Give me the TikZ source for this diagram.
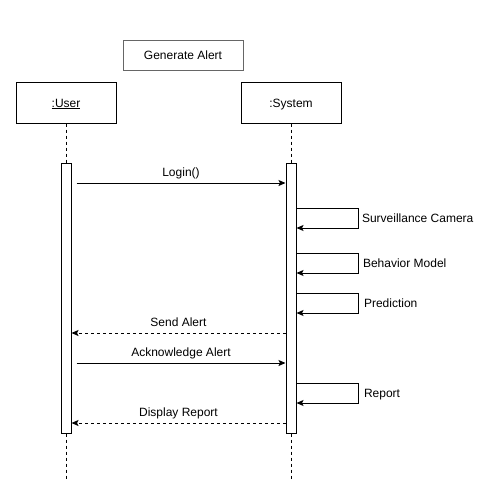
\documentclass[tikz,border=0pt]{standalone}
\usepackage{fontspec}
\setmainfont{Liberation Sans}
\usetikzlibrary{arrows.meta}

\begin{document}
\begin{tikzpicture}[x=1pt,y=-1pt,font=\fontsize{12}{14}\selectfont,line width=1pt]
\tikzstyle{every node}+=[inner sep=0pt,text height=9pt,text depth=1pt]
\tikzstyle{obj}=[draw,rectangle,minimum width=100pt,minimum height=40pt]
\tikzstyle{act}=[draw,fill=white,rectangle,minimum width=10pt,minimum height=270pt]
\tikzstyle{life}=[dash pattern=on 3pt off 3pt]
\tikzstyle{msg}=[-{Stealth[length=7pt,width=6pt,inset=1.5pt]}]
\tikzstyle{reply}=[msg,dash pattern=on 3pt off 3pt]
\tikzstyle{lbl}=[above=5pt]
\useasboundingbox (0,0) rectangle (478,484);
\node[draw=black!60,minimum width=120pt,minimum height=30pt] (title) at (183,56) {Generate Alert};
\node[obj] (user) at (66,103) {\underline{:User}};
\node[obj] (sys) at (291,103) {:System};
\node[act] (uact) at (66,298) {};
\node[act] (sact) at (291,298) {};
\coordinate (uend) at (66,480);
\coordinate (send) at (291,480);
\draw[life] (user) -- (uact);
\draw[life] (uact) -- (uend);
\draw[life] (sys) -- (sact);
\draw[life] (sact) -- (send);
\coordinate (login) at (0,183);
\coordinate (cam) at (0,208);
\coordinate (model) at (0,253);
\coordinate (pred) at (0,293);
\coordinate (alert) at (0,333);
\coordinate (ack) at (0,363);
\coordinate (rep) at (0,383);
\coordinate (disp) at (0,423);
\draw[msg] ([xshift=5pt]uact.east |- login) -- node[lbl] (loginlbl) {Login()} (sact.west |- login);
\draw[msg] (sact.east |- cam) -- ++(62,0) -- node[right=3pt] (camlbl) {Surveillance Camera} ++(0,20) -- ++(-62,0);
\draw[msg] (sact.east |- model) -- ++(62,0) -- node[right=4pt] (modellbl) {Behavior Model} ++(0,20) -- ++(-62,0);
\draw[msg] (sact.east |- pred) -- ++(62,0) -- node[right=5pt] (predlbl) {Prediction} ++(0,20) -- ++(-62,0);
\draw[reply] (sact.west |- alert) -- node[lbl] (alertlbl) {Send Alert} (uact.east |- alert);
\draw[msg] ([xshift=5pt]uact.east |- ack) -- node[lbl] (acklbl) {Acknowledge Alert} (sact.west |- ack);
\draw[msg] (sact.east |- rep) -- ++(62,0) -- node[right=5pt] (replbl) {Report} ++(0,20) -- ++(-62,0);
\draw[reply] (sact.west |- disp) -- node[lbl] (displbl) {Display Report} (uact.east |- disp);
\end{tikzpicture}
\end{document}
